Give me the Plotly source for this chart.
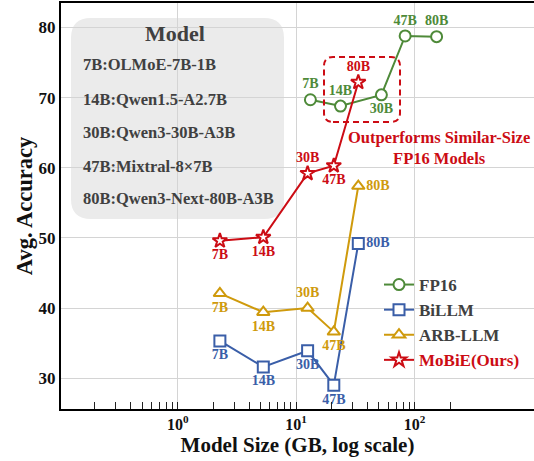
import plotly.graph_objects as go

# ---------------- data ----------------
size_labels = ["7B", "14B", "30B", "47B", "80B"]
model_names = ["OLMoE-7B-1B", "Qwen1.5-A2.7B", "Qwen3-30B-A3B", "Mixtral-8×7B", "Qwen3-Next-80B-A3B"]
fp16_size_gb = [13.2, 23.7, 52.5, 83.3, 153.6]
quant_size_gb = [2.27, 5.28, 12.5, 20.8, 33.5]
fp16_acc = [69.7, 68.8, 70.4, 78.8, 78.7]
billm_acc = [35.3, 31.6, 33.9, 29.0, 49.2]
arb_acc = [42.1, 39.4, 40.0, 36.6, 57.4]
mobie_acc = [49.6, 50.1, 59.2, 60.3, 72.2]
x_tick_vals = [1, 10, 100]
x_tick_text = ["10<sup>0</sup>", "10<sup>1</sup>", "10<sup>2</sup>"]
y_tick_vals = [30, 40, 50, 60, 70, 80]

# ---------------- style ----------------
W, H = 534, 461
ML, MR, MT, MB = 61, 0, 3, 52
PW, PH = W - ML - MR, H - MT - MB
FONT = "Liberation Serif"
GREEN, BLUE, GOLD, RED = "#4e8a39", "#3a5ea8", "#cf9a0c", "#cc0c14"
TXT = "#404040"

series = [
    dict(name="FP16", x=fp16_size_gb, y=fp16_acc, color=GREEN, symbol="circle",
         pos=["top center", "top center", "bottom center", "top center", "top center"]),
    dict(name="BiLLM", x=quant_size_gb, y=billm_acc, color=BLUE, symbol="square",
         pos=["bottom center", "bottom center", "bottom center", "bottom center", "middle right"]),
    dict(name="ARB-LLM", x=quant_size_gb, y=arb_acc, color=GOLD, symbol="triangle-up",
         pos=["bottom center", "bottom center", "top center", "bottom center", "middle right"]),
    dict(name="<span style='color:%s'>MoBiE(Ours)</span>" % RED, x=quant_size_gb, y=mobie_acc,
         color=RED, symbol="star",
         pos=["bottom center", "bottom center", "top center", "bottom center", "top center"]),
]

fig = go.Figure()
for s in series:
    fig.add_trace(go.Scatter(
        x=s["x"], y=s["y"], name=s["name"], mode="lines+markers+text",
        text=size_labels, textposition=s["pos"],
        textfont=dict(family=FONT, size=14, color=s["color"], weight="bold"),
        line=dict(color=s["color"], width=2),
        marker=dict(symbol=s["symbol"], size=11, color="white",
                    line=dict(color=s["color"], width=2)),
        cliponaxis=False,
    ))


def px2paper(px, py):
    return (px - ML) / PW, (H - MB - py) / PH


def rounded_path(x0p, y0p, x1p, y1p, r):
    # pixel corners -> paper path with rounded corners
    ax, ay = px2paper(x0p, y1p)  # bottom-left
    bx, by = px2paper(x1p, y0p)  # top-right
    rx, ry = r / PW, r / PH
    return (f"M{ax+rx},{ay} L{bx-rx},{ay} Q{bx},{ay} {bx},{ay+ry} "
            f"L{bx},{by-ry} Q{bx},{by} {bx-rx},{by} L{ax+rx},{by} "
            f"Q{ax},{by} {ax},{by-ry} L{ax},{ay+ry} Q{ax},{ay} {ax+rx},{ay} Z")


shapes = [
    dict(type="path", xref="paper", yref="paper", layer="below",
         path=rounded_path(71, 18, 284, 219, 20),
         fillcolor="#ebebeb", line=dict(width=0)),
    dict(type="path", xref="paper", yref="paper", layer="above",
         path=rounded_path(324, 57, 400, 122, 9),
         fillcolor="rgba(0,0,0,0)", line=dict(color=RED, width=2, dash="6px,4px")),
]

annotations = []
mx, my = px2paper(175, 34)
annotations.append(dict(xref="paper", yref="paper", x=mx, y=my, text="Model", showarrow=False,
                        xanchor="center", yanchor="middle",
                        font=dict(family=FONT, size=22, color=TXT, weight="bold")))
row_y = [64.5, 99, 132.5, 166, 198.5]
for lab, nm, ry in zip(size_labels, model_names, row_y):
    ax_, ay_ = px2paper(81, ry)
    annotations.append(dict(xref="paper", yref="paper", x=ax_, y=ay_, text=f"{lab}:{nm}",
                            showarrow=False, xanchor="left", yanchor="middle",
                            font=dict(family=FONT, size=16.5, color=TXT, weight="bold")))
ox, oy = px2paper(438.5, 147.5)
annotations.append(dict(xref="paper", yref="paper", x=ox, y=oy,
                        text="Outperforms Similar-Size<br>FP16 Models", showarrow=False,
                        xanchor="center", yanchor="middle", align="center",
                        font=dict(family=FONT, size=16.5, color=RED, weight="bold")))

minor_vals = [m * 10 ** e for e in (-1, 0, 1) for m in range(2, 10)] + [200]

lx, ly = px2paper(379, 267)
fig.update_layout(
    width=W, height=H, margin=dict(l=ML, r=MR, t=MT, b=MB, autoexpand=False),
    paper_bgcolor="white", plot_bgcolor="white",
    shapes=shapes, annotations=annotations,
    showlegend=True,
    legend=dict(x=lx, y=ly, xanchor="left", yanchor="top", bgcolor="rgba(0,0,0,0)",
                font=dict(family=FONT, size=17, color=TXT, weight="bold"),
                tracegroupgap=0),
    xaxis=dict(type="log", range=[-0.986, 3.009], automargin=False,
               tickvals=x_tick_vals, ticktext=x_tick_text,
               ticks="inside", ticklen=7, tickwidth=1, tickcolor="#222",
               minor=dict(tickmode="array", tickvals=minor_vals, ticks="inside", ticklen=7,
                          tickwidth=1, tickcolor="#222", showgrid=False),
               showgrid=True, gridcolor="#d4d4d4", gridwidth=1.3,
               showline=True, linecolor="black", linewidth=2, mirror=True,
               tickfont=dict(family=FONT, size=16, color="#111", weight="bold"),
               title=dict(text="Model Size (GB, log scale)", standoff=4,
                          font=dict(family=FONT, size=21, color="#111", weight="bold")),
               zeroline=False),
    yaxis=dict(range=[25.6, 83.5], tickvals=y_tick_vals, automargin=False,
               showgrid=True, gridcolor="#d4d4d4", gridwidth=1.3,
               showline=True, linecolor="black", linewidth=2, mirror=False,
               ticks="", tickfont=dict(family=FONT, size=17, color="#111", weight="bold"),
               title=dict(text="Avg. Accuracy", standoff=0,
                          font=dict(family=FONT, size=22.5, color="#111", weight="bold")),
               zeroline=False),
)

fig.write_html("out.html", config={"displayModeBar": False},
               post_script="document.body.style.margin='0px';document.body.style.overflow='hidden';")
